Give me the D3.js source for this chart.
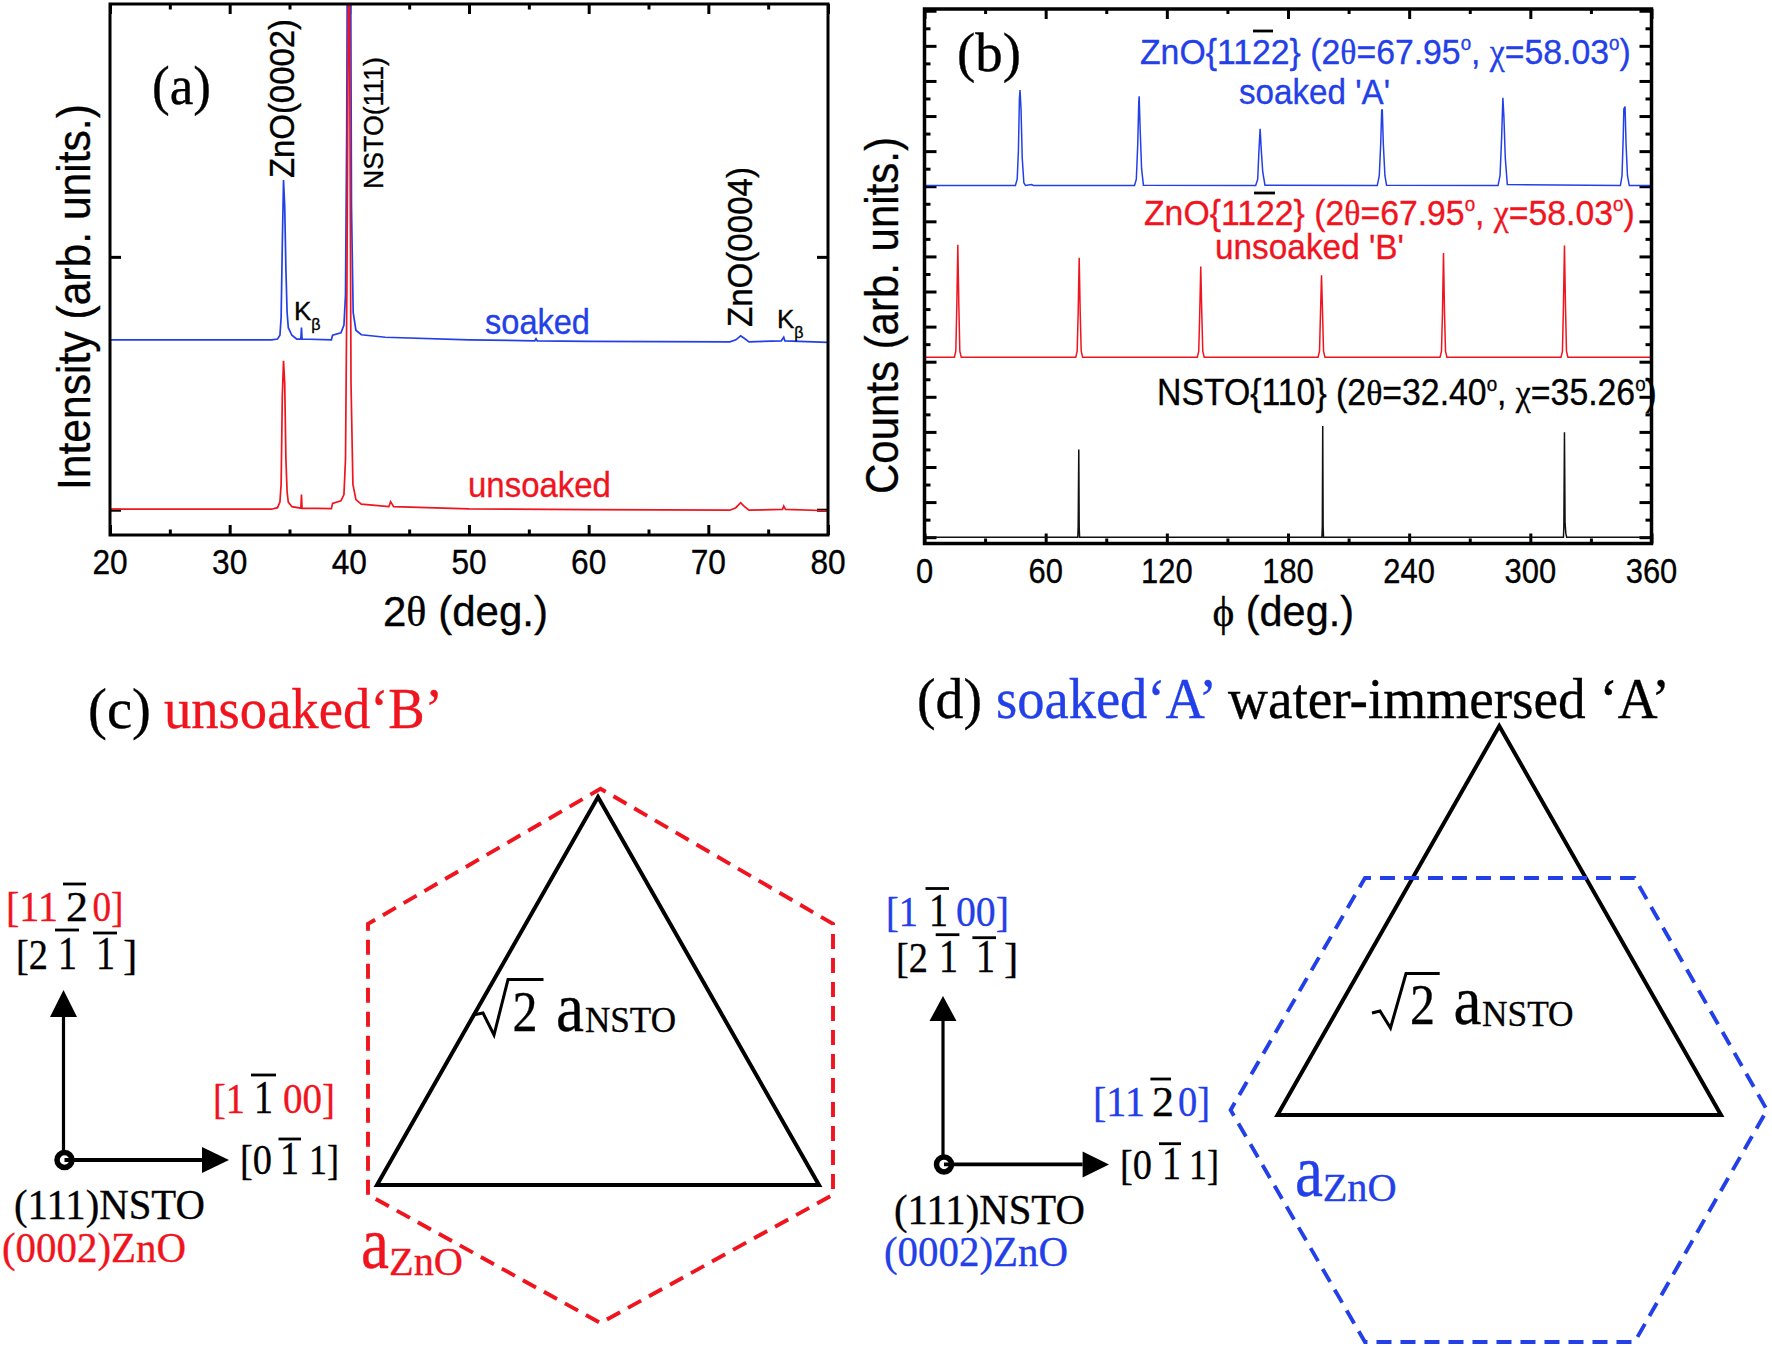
<!DOCTYPE html>
<html><head><meta charset="utf-8">
<script src="https://cdn.jsdelivr.net/npm/d3@7/dist/d3.min.js"></script>
<style>html,body{margin:0;padding:0;background:#fff}svg{display:block}</style>
</head><body><svg id="c" width="1772" height="1347"></svg>
<script>
// ---- panel (a): 2-theta scans, [2theta, intensity]
const xrdBlue=[[20,.672],[30,.672],[33.5,.672],[34,.675],[34.2,.69],[34.3,.76],[34.4,1.05],[34.5,1.304],[34.6,1.2],[34.7,.95],[34.8,.78],[34.9,.72],[35.2,.69],[35.6,.675],[35.95,.675],[36,.72],[36.05,.675],[38.5,.672],[38.6,.69],[39.3,.7],[39.55,.73],[39.68,.85],[39.78,1.5],[39.84,2.3],[40.1,2.3],[40.18,1.2],[40.32,.78],[40.55,.71],[41,.692],[43,.682],[50,.672],[55.5,.668],[55.6,.676],[55.7,.668],[60,.666],[71.8,.664],[72.3,.672],[72.7,.688],[73,.678],[73.4,.664],[76.1,.668],[76.3,.682],[76.4,.668],[80,.662]];
const xrdRed=[[20,.002],[30,.002],[33.5,.002],[34,.008],[34.2,.03],[34.3,.1],[34.4,.45],[34.5,.589],[34.6,.5],[34.7,.2],[34.8,.07],[34.9,.03],[35.2,.012],[35.95,.006],[36,.06],[36.05,.006],[38.5,.004],[38.6,.025],[39.3,.035],[39.55,.06],[39.68,.2],[39.8,.9],[39.95,2.3],[39.99,2.3],[40.14,.5],[40.3,.1],[40.55,.04],[41,.022],[43.3,.012],[43.45,.032],[43.7,.012],[50,.003],[60,0],[71.8,-.002],[72.3,.008],[72.7,.028],[73,.013],[73.4,-.002],[76.2,.001],[76.3,.014],[76.45,.001],[80,-.004]];
// ---- panel (b): phi scans, [phi, counts]
const phiBlue=[[0,10.02],[45,10.02],[45.9,10.2],[46.5,11],[47,12.5],[47.3,12.74],[47.8,12.2],[48.4,10.8],[49.2,10.1],[50,10.02],[53,10.05],[54,10.02],[104,10.02],[104.9,10.2],[105.6,11.2],[106.1,12.4],[106.3,12.56],[106.8,11.6],[107.5,10.5],[108.4,10.03],[164,10.02],[165,10.2],[165.6,11],[166.2,11.64],[166.8,11],[167.5,10.4],[168.6,10.03],[224.2,10.02],[225.2,10.3],[225.9,11.2],[226.4,12.17],[226.7,12.17],[227.2,11.2],[228,10.3],[228.8,10.03],[284,10.02],[285,10.3],[285.8,11.4],[286.4,12.52],[286.9,12],[287.6,10.8],[288.6,10.05],[344.6,10.02],[345.4,10.3],[346,11.4],[346.3,12.2],[346.9,12.27],[347.4,11.2],[348.1,10.3],[349,10.02],[360,10.02]];
const phiRed=[[0,5.13],[14.8,5.13],[15.5,5.3],[16,6.6],[16.5,8.33],[17,6.6],[17.5,5.3],[18.2,5.13],[74.9,5.13],[75.6,5.3],[76.1,6.4],[76.6,7.96],[77.1,6.4],[77.6,5.3],[78.3,5.13],[135.1,5.13],[135.8,5.3],[136.3,6.4],[136.8,7.71],[137.3,6.4],[137.8,5.3],[138.5,5.13],[194.9,5.13],[195.6,5.3],[196.1,6.4],[196.6,7.46],[197.1,6.4],[197.6,5.3],[198.3,5.13],[255.3,5.13],[256,5.3],[256.5,6.4],[257,8.1],[257.5,6.4],[258,5.3],[258.7,5.13],[315.2,5.13],[315.9,5.3],[316.4,6.6],[316.9,8.31],[317.4,6.6],[317.9,5.3],[318.6,5.13],[360,5.13]];
const phiBlack=[[0,0],[75.9,0],[76.1,.3],[76.4,2.5],[76.6,.3],[76.8,0],[196.8,0],[197,.3],[197.2,3.17],[197.4,.3],[197.6,0],[316.4,0],[316.6,.3],[316.9,2.99],[317.2,.4],[317.6,.1],[318,0],[360,0]];
// ---- tick labels
const ticksA=[20,30,40,50,60,70,80], minorA=[25,35,45,55,65,75], yTicksA=[0,1];
const ticksB=[0,60,120,180,240,300,360], minorB=[30,90,150,210,270,330];
const yMajorB=[0,1,2,3,4,5,6,7,8,9,10,11,12,13,14,15], yMinorB=[.5,1.5,2.5,3.5,4.5,5.5,6.5,7.5,8.5,9.5,10.5,11.5,12.5,13.5,14.5];
// ---- schematic outlines in unit coordinates
const triangle=[[.5,0],[1,1],[0,1]];
const hexC=[[.5,0],[1,.253],[1,.76],[.5,1],[0,.76],[0,.253]];
const hexD=[[.2505,0],[.7532,0],[1,.5],[.7532,1],[.2505,1],[0,.5]];

const BLUE="#2340e8",RED="#f0141e",INK="#000";
const SANS="'Liberation Sans',Arial,sans-serif",SERIF="'Liberation Serif','Times New Roman',serif";
const svg=d3.select("#c");
svg.append("rect").attr("width",1772).attr("height",1347).attr("fill","#fff");

function label(parts,o){
  const c=o.fill||INK;
  const t=svg.append("text").attr("font-family",o.family||SANS).attr("font-size",o.size).attr("fill",c).attr("stroke",c).attr("stroke-width",.35).style("white-space","pre");
  (Array.isArray(parts)?parts:[parts]).forEach(p=>{
    const q=typeof p==="string"?{t:p}:p, s=t.append("tspan").text(q.t);
    if(q.family)s.attr("font-family",q.family);
    if(q.size)s.attr("font-size",q.size); if(q.dy)s.attr("dy",q.dy);
  });
  const len=t.node().getComputedTextLength(), k=o.w?o.w/len:1;
  t.attr("transform",`translate(${o.x},${o.y}) rotate(${o.rot||0}) scale(${k},1)`);
  return t;
}
function bar(x1,x2,y){svg.append("line").attr("x1",x1).attr("x2",x2).attr("y1",y).attr("y2",y).attr("stroke","#000").attr("stroke-width",2.8);}

function panel(x,y,xMajor,xMinor,yMajor,yMinor,lenMaj,lenMin,yLen,yMinLen,frame){
  const [l,r]=x.range(),[b,t]=y.range();
  const g=svg.append("g");
  const mk=(axis,tx,values,size)=>{
    const a=g.append("g").attr("transform",tx).call(axis.tickValues(values).tickSizeInner(size).tickSizeOuter(0).tickFormat(""));
    a.select(".domain").remove(); a.selectAll("line").attr("stroke","#000").attr("stroke-width",3);
  };
  mk(d3.axisBottom(x),`translate(0,${b})`,xMajor,-lenMaj);
  mk(d3.axisBottom(x),`translate(0,${b})`,xMinor,-lenMin);
  mk(d3.axisTop(x),`translate(0,${t})`,xMajor,-lenMaj);
  mk(d3.axisTop(x),`translate(0,${t})`,xMinor,-lenMin);
  mk(d3.axisLeft(y),`translate(${l},0)`,yMajor,-yLen);
  mk(d3.axisRight(y),`translate(${r},0)`,yMajor,-yLen);
  if(yMinor.length){mk(d3.axisLeft(y),`translate(${l},0)`,yMinor,-yMinLen);mk(d3.axisRight(y),`translate(${r},0)`,yMinor,-yMinLen);}
  const clip="clip"+Math.round(l);
  svg.append("clipPath").attr("id",clip).append("rect").attr("x",l).attr("y",t).attr("width",r-l).attr("height",b-t);
  const marks=svg.append("g").attr("clip-path",`url(#${clip})`);
  svg.append("rect").attr("x",l).attr("y",t).attr("width",r-l).attr("height",b-t).attr("fill","none").attr("stroke","#000").attr("stroke-width",frame);
  return marks;
}
function tickLabels(x,values,y,size,k){
  values.forEach(v=>{
    const t=svg.append("text").attr("font-family",SANS).attr("font-size",size).attr("text-anchor","middle").attr("stroke","#000").attr("stroke-width",.35).text(v);
    t.attr("transform",`translate(${x(v)},${y}) scale(${k},1)`);
  });
}
const line=(x,y)=>d3.line().x(d=>x(d[0])).y(d=>y(d[1]));

// ---------- (a)
const xA=d3.scaleLinear().domain([20,80]).range([110,828]);
const yA=d3.scaleLinear().domain([-.1,2]).range([535,4]);
const mA=panel(xA,yA,ticksA,minorA,yTicksA,[],10,5.5,11,0,3);
mA.append("path").attr("d",line(xA,yA)(xrdBlue)).attr("fill","none").attr("stroke",BLUE).attr("stroke-width",1.7);
mA.append("path").attr("d",line(xA,yA)(xrdRed)).attr("fill","none").attr("stroke",RED).attr("stroke-width",1.7);
tickLabels(xA,ticksA,574,36,.88);
label("(a)",{family:SERIF,size:54,x:152,y:104,w:59});
label("Intensity (arb. units.)",{size:47,x:90,y:490,w:386,rot:-90});
label(["2",{t:"θ",family:SERIF}," (deg.)"],{size:42,x:383,y:626,w:165});
label("ZnO(0002)",{size:35,x:294,y:178,w:159,rot:-90});
label("NSTO(111)",{size:28,x:383,y:189,w:132,rot:-90});
label("ZnO(0004)",{size:35,x:752,y:327,w:160,rot:-90});
label(["K",{t:"β",size:16,dy:10}],{size:26,x:294,y:320});
label(["K",{t:"β",size:16,dy:10}],{size:26,x:777,y:328});
label("soaked",{size:36,x:485,y:334,w:105,fill:BLUE});
label("unsoaked",{size:36,x:468,y:497,w:143,fill:RED});

// ---------- (b)
const xB=d3.scaleLinear().domain([0,360]).range([924.5,1651.5]);
const yB=d3.scaleLinear().domain([-.18,15.05]).range([543.5,9]);
const mB=panel(xB,yB,ticksB,minorB,yMajorB,yMinorB,10,5,12,6,3.5);
[[phiBlue,BLUE],[phiRed,RED],[phiBlack,"#111"]].forEach(([d,c])=>mB.append("path").attr("d",line(xB,yB)(d)).attr("fill","none").attr("stroke",c).attr("stroke-width",1.5));
tickLabels(xB,ticksB,583,36,.86);
label("(b)",{family:SERIF,size:54,x:957,y:70.5,w:64});
label("Counts (arb. units.)",{size:47,x:898,y:494,w:357,rot:-90});
label([{t:"ϕ",family:SERIF}," (deg.)"],{size:42,x:1212.5,y:626,w:141.5});
const deg=(n)=>[{t:"o",size:20,dy:-14},{t:n,dy:14}];
const peakText=(a,b)=>["ZnO{1122} (2",{t:"θ",family:SERIF},"="+a,...deg(", "),{t:"χ",family:SERIF},"="+b,...deg(")")];
label(peakText("67.95","58.03"),{size:36,x:1140,y:63.5,w:491,fill:BLUE});
bar(1253,1273,31);
label("soaked 'A'",{size:36,x:1239,y:104,w:151,fill:BLUE});
label(peakText("67.95","58.03"),{size:36,x:1144,y:224.5,w:491,fill:RED});
bar(1254,1275,193);
label("unsoaked 'B'",{size:36,x:1215,y:259,w:189,fill:RED});
label(["NSTO{110} (2",{t:"θ",family:SERIF},"=32.40",...deg(", "),{t:"χ",family:SERIF},"=35.26",...deg(")")],{size:36,x:1157,y:404.5,w:500});

// ---------- schematics
const s=(o)=>label(o.t,{family:SERIF,size:o.size||43,x:o.x,y:o.y,w:o.w,fill:o.fill});
const one=(x,y)=>s({t:"1",size:47,x:x,y:y,w:19});
function poly(pts,x0,x1,y0,y1,attrs){
  const x=d3.scaleLinear().domain([0,1]).range([x0,x1]),y=d3.scaleLinear().domain([0,1]).range([y0,y1]);
  const p=svg.append("path").attr("d",d3.line().x(d=>x(d[0])).y(d=>y(d[1]))(pts)+"Z").attr("fill","none");
  Object.entries(attrs).forEach(([k,v])=>p.attr(k,v));
}
function arrows(ox,oy,tipY,baseY,tipX,baseX){
  const g=svg.append("g");
  g.append("circle").attr("cx",ox).attr("cy",oy).attr("r",7.5).attr("fill","#fff").attr("stroke","#000").attr("stroke-width",5.5);
  g.append("line").attr("x1",ox-1).attr("x2",ox-1).attr("y1",oy-6).attr("y2",baseY).attr("stroke","#000").attr("stroke-width",3.2);
  g.append("line").attr("x1",ox).attr("x2",baseX).attr("y1",oy).attr("y2",oy).attr("stroke","#000").attr("stroke-width",3.8);
  g.append("path").attr("d",d3.line()([[ox-1,tipY],[ox-14.5,baseY],[ox+12.5,baseY]])+"Z");
  g.append("path").attr("d",d3.line()([[tipX,oy],[baseX,oy-13],[baseX,oy+13]])+"Z");
}
function sqrtLabel(pts,twoX,twoY,aX,nX,nY,nW){
  svg.append("path").attr("d",d3.line()(pts)).attr("fill","none").attr("stroke","#000").attr("stroke-width",3);
  s({t:"2",size:58,x:twoX,y:twoY,w:25});
  s({t:"a",size:70,x:aX,y:twoY,w:28});
  s({t:"NSTO",size:36,x:nX,y:nY,w:nW});
}
const triStyle={stroke:"#000","stroke-width":4,"stroke-linejoin":"miter"};
const dashStyle=c=>({stroke:c,"stroke-width":3.9,"stroke-dasharray":"15 9","stroke-dashoffset":9});

// (c)
label("(c)",{family:SERIF,size:56,x:88,y:728,w:63});
label("unsoaked‘B’",{family:SERIF,size:56,x:164,y:728,w:279,fill:RED});
poly(hexC,368,833,788.7,1323,dashStyle(RED));
poly(triangle,377,819,797,1185,triStyle);
arrows(64.5,1160,990,1017,229,202);
s({t:"[11",x:6,y:921,fill:RED,w:52}); s({t:"2",x:66,y:921,w:22}); s({t:"0]",x:92.5,y:921,fill:RED,w:31}); bar(63,86,884);
s({t:"[2",x:16,y:969,w:32}); one(58,969); bar(55,79,930); one(96,969); bar(93,117,933); s({t:"]",x:123,y:969});
s({t:"[1",x:213,y:1112.6,fill:RED,w:32}); one(254,1112.6); bar(251,276,1075); s({t:"00]",x:283,y:1112.6,fill:RED,w:52});
s({t:"[0",x:240,y:1174,w:32}); one(280,1174); bar(278.5,301,1139); s({t:"1]",x:309,y:1174,w:30});
s({t:"(111)NSTO",x:14,y:1219,w:191});
s({t:"(0002)ZnO",x:2,y:1261.5,w:184,fill:RED});
sqrtLabel([[473,1015],[483,1013],[494,1035],[508,979.6],[543.5,979.6]],512.4,1030.5,556,585,1032,91);
s({t:"a",size:74,x:361,y:1268,w:28,fill:RED}); s({t:"ZnO",size:40,x:389,y:1274.5,w:74,fill:RED});

// (d)
label("(d)",{family:SERIF,size:56,x:917,y:718,w:65});
label("soaked‘A’",{family:SERIF,size:56,x:996,y:718,w:221,fill:BLUE});
label("water-immersed ‘A’",{family:SERIF,size:56,x:1228,y:718,w:442});
poly(triangle,1277.5,1721,726,1115,triStyle);
poly(hexD,1230.6,1767,878,1342,dashStyle(BLUE));
arrows(944,1164.4,996,1021,1109,1082.6);
s({t:"[1",x:886,y:925.6,fill:BLUE,w:32}); one(929,925.6); bar(925.5,949,888.5); s({t:"00]",x:956,y:925.6,fill:BLUE,w:53});
s({t:"[2",x:896,y:972,w:32}); one(939,972); bar(935.7,959.4,934.7); one(976,972); bar(972.4,996,937.7); s({t:"]",x:1004,y:972});
s({t:"[11",x:1093,y:1115.6,fill:BLUE,w:52}); s({t:"2",x:1152,y:1115.6,w:22}); bar(1150.4,1171,1079); s({t:"0]",x:1178,y:1115.6,fill:BLUE,w:32});
s({t:"[0",x:1120,y:1178.6,w:32}); one(1162,1178.6); bar(1159,1181,1143.7); s({t:"1]",x:1189,y:1178.6,w:30});
s({t:"(111)NSTO",x:894,y:1223.5,w:191});
s({t:"(0002)ZnO",x:884,y:1266,w:184,fill:BLUE});
sqrtLabel([[1372,1013],[1380,1011],[1390.5,1028],[1406,973.5],[1439.7,973.5]],1410,1024,1453.5,1482,1026,91.6);
s({t:"a",size:74,x:1295,y:1196,w:28,fill:BLUE}); s({t:"ZnO",size:40,x:1322.7,y:1201,w:74,fill:BLUE});
</script></body></html>
